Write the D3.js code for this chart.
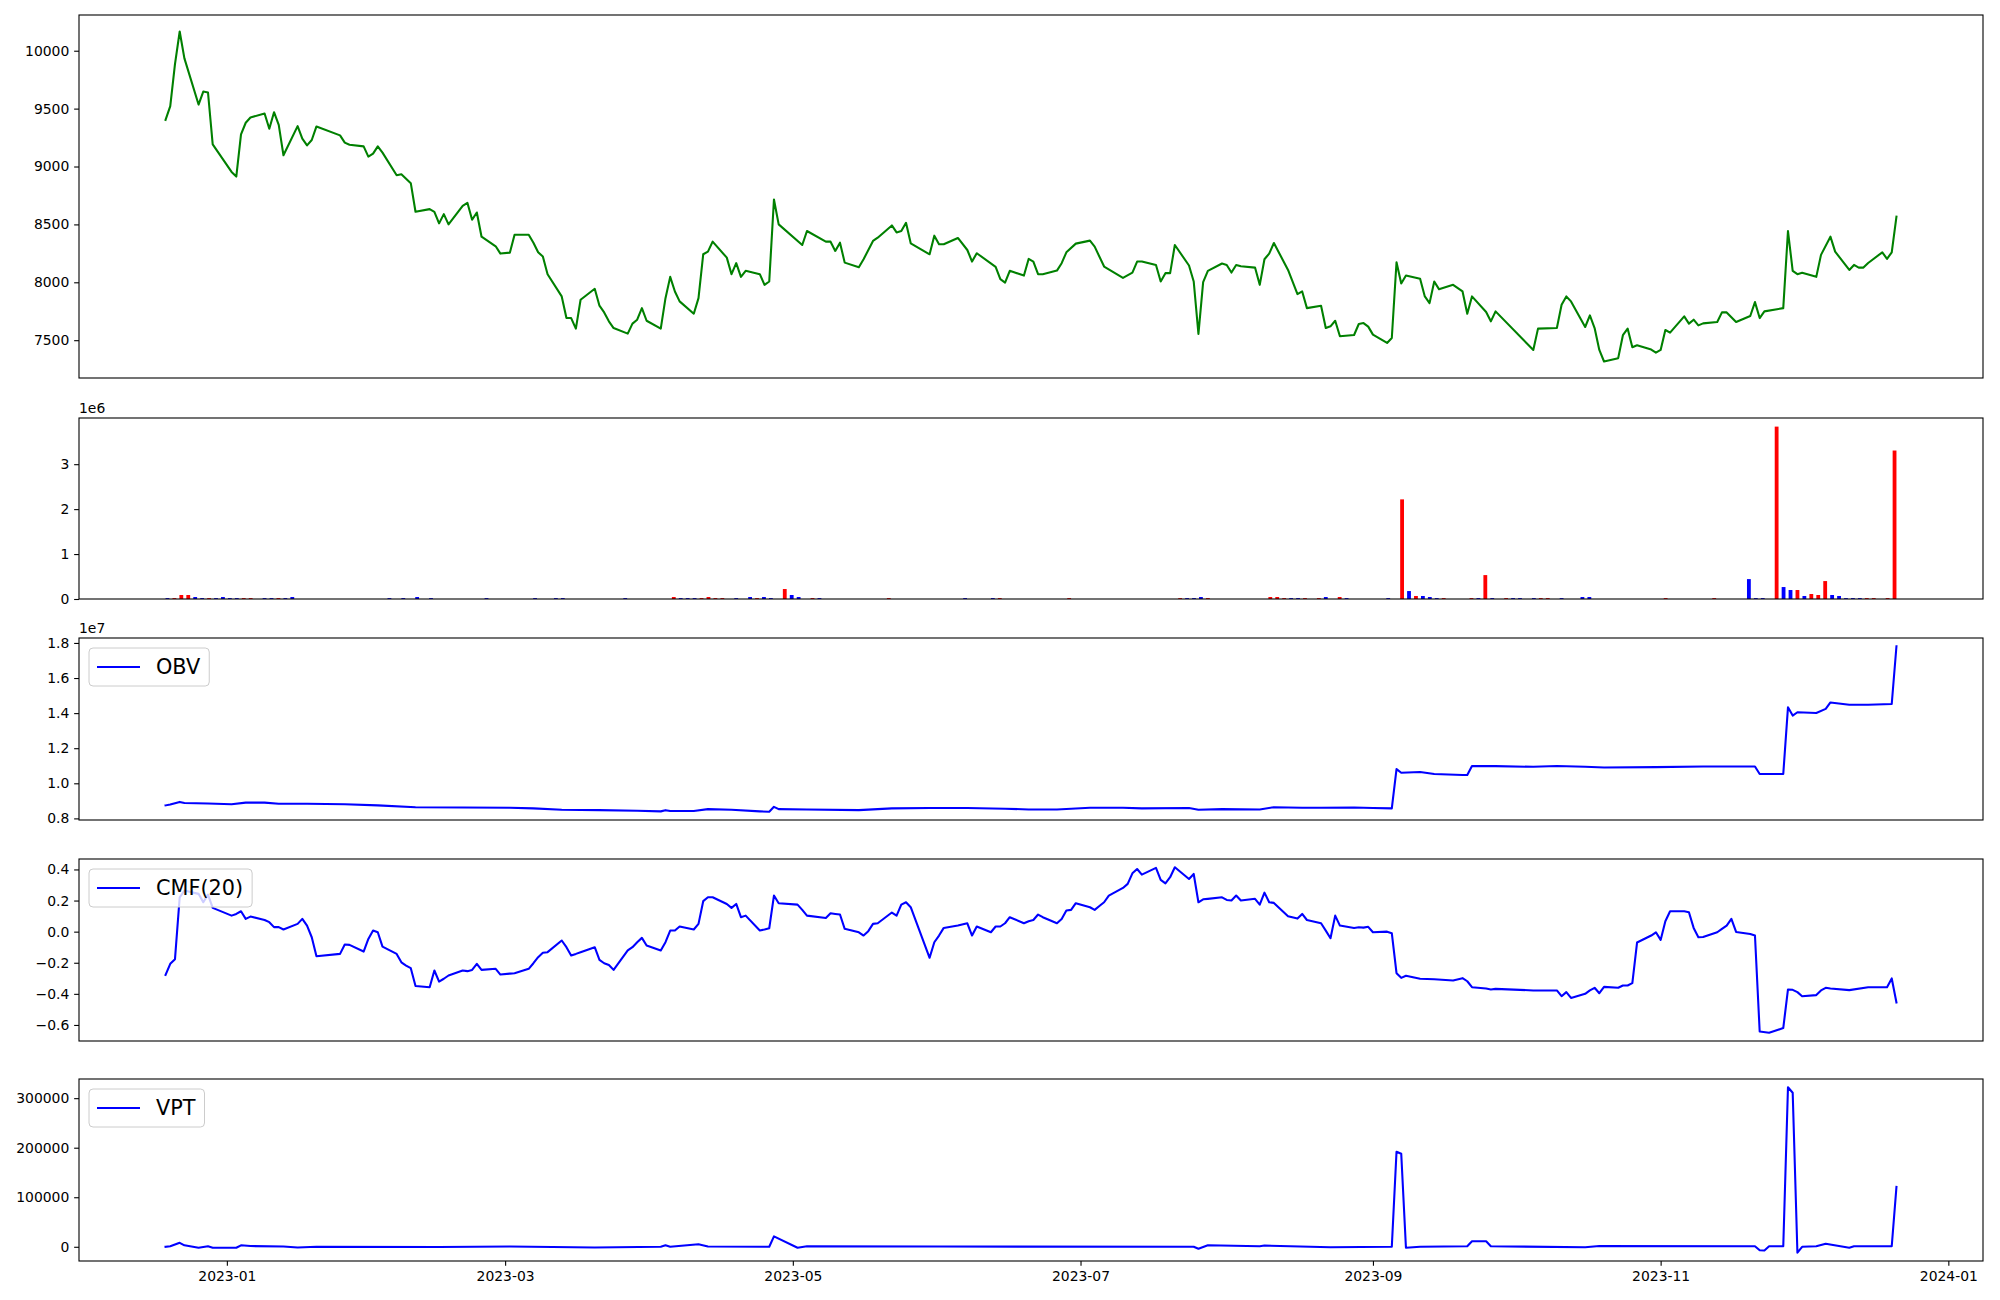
<!DOCTYPE html>
<html><head><meta charset="utf-8">
<script src="https://cdn.jsdelivr.net/npm/d3@7"></script>
<style>body{margin:0;background:#fff}</style>
</head><body>
<svg id="chart" width="2000" height="1300"></svg>
<script>
// ---------------- DATA ----------------
const priceData = [
["2022-12-19",9403],["2022-12-20",9521],["2022-12-21",9885],["2022-12-22",10166],["2022-12-23",9934],
["2022-12-26",9535],["2022-12-27",9647],["2022-12-28",9639],["2022-12-29",9191],
["2023-01-02",8953],["2023-01-03",8913],["2023-01-04",9277],["2023-01-05",9378],["2023-01-06",9423],
["2023-01-09",9458],["2023-01-10",9326],["2023-01-11",9469],["2023-01-12",9360],["2023-01-13",9097],
["2023-01-16",9349],["2023-01-17",9240],["2023-01-18",9183],["2023-01-19",9229],["2023-01-20",9346],
["2023-01-25",9269],["2023-01-26",9206],["2023-01-27",9188],["2023-01-30",9174],["2023-01-31",9085],
["2023-02-01",9111],["2023-02-02",9174],["2023-02-03",9120],["2023-02-06",8925],["2023-02-07",8933],
["2023-02-09",8856],["2023-02-10",8609],["2023-02-13",8632],["2023-02-14",8609],["2023-02-15",8509],
["2023-02-16",8589],["2023-02-17",8500],["2023-02-20",8661],["2023-02-21",8687],["2023-02-22",8540],
["2023-02-23",8603],["2023-02-24",8394],["2023-02-27",8311],["2023-02-28",8248],["2023-03-02",8256],
["2023-03-03",8411],["2023-03-06",8411],["2023-03-07",8342],["2023-03-08",8259],["2023-03-09",8222],
["2023-03-10",8070],["2023-03-13",7878],["2023-03-14",7691],["2023-03-15",7691],["2023-03-16",7600],
["2023-03-17",7849],["2023-03-20",7944],["2023-03-21",7798],["2023-03-22",7740],["2023-03-23",7663],
["2023-03-24",7605],["2023-03-27",7557],["2023-03-28",7643],["2023-03-29",7677],["2023-03-30",7777],
["2023-03-31",7668],["2023-04-03",7600],["2023-04-04",7863],["2023-04-05",8047],["2023-04-06",7921],
["2023-04-07",7835],["2023-04-10",7729],["2023-04-11",7863],["2023-04-12",8242],["2023-04-13",8265],
["2023-04-14",8351],["2023-04-17",8213],["2023-04-18",8070],["2023-04-19",8165],["2023-04-20",8047],
["2023-04-21",8099],["2023-04-24",8070],["2023-04-25",7978],["2023-04-26",8007],["2023-04-27",8715],
["2023-04-28",8500],["2023-05-03",8322],["2023-05-04",8443],["2023-05-08",8351],["2023-05-09",8351],
["2023-05-10",8271],["2023-05-11",8342],["2023-05-12",8170],["2023-05-15",8130],["2023-05-16",8199],
["2023-05-18",8357],["2023-05-19",8385],["2023-05-22",8491],["2023-05-23",8431],["2023-05-24",8443],
["2023-05-25",8514],["2023-05-26",8337],["2023-05-30",8242],["2023-05-31",8403],["2023-06-01",8328],
["2023-06-02",8328],["2023-06-05",8383],["2023-06-07",8279],["2023-06-08",8179],["2023-06-09",8251],
["2023-06-13",8133],["2023-06-14",8027],["2023-06-15",7998],["2023-06-16",8099],["2023-06-19",8058],
["2023-06-20",8202],["2023-06-21",8179],["2023-06-22",8070],["2023-06-23",8070],["2023-06-26",8101],
["2023-06-27",8165],["2023-06-28",8259],["2023-06-30",8334],["2023-07-03",8360],["2023-07-04",8308],
["2023-07-06",8136],["2023-07-10",8038],["2023-07-12",8084],["2023-07-13",8179],["2023-07-14",8179],
["2023-07-17",8150],["2023-07-18",8007],["2023-07-19",8079],["2023-07-20",8079],["2023-07-21",8322],
["2023-07-24",8145],["2023-07-25",8007],["2023-07-26",7554],["2023-07-27",8001],["2023-07-28",8099],
["2023-07-31",8162],["2023-08-01",8150],["2023-08-02",8084],["2023-08-03",8150],["2023-08-04",8139],
["2023-08-07",8127],["2023-08-08",7978],["2023-08-09",8199],["2023-08-10",8248],["2023-08-11",8339],
["2023-08-14",8107],["2023-08-16",7898],["2023-08-17",7921],["2023-08-18",7777],["2023-08-21",7798],
["2023-08-22",7605],["2023-08-23",7620],["2023-08-24",7668],["2023-08-25",7534],["2023-08-28",7545],
["2023-08-29",7640],["2023-08-30",7648],["2023-08-31",7617],["2023-09-01",7548],["2023-09-04",7476],
["2023-09-05",7519],["2023-09-06",8173],["2023-09-07",7990],["2023-09-08",8059],["2023-09-11",8030],
["2023-09-12",7878],["2023-09-13",7820],["2023-09-14",8007],["2023-09-15",7941],["2023-09-18",7978],
["2023-09-20",7921],["2023-09-21",7729],["2023-09-22",7878],["2023-09-25",7743],["2023-09-26",7663],
["2023-09-27",7749],["2023-10-05",7416],["2023-10-06",7600],["2023-10-10",7605],["2023-10-11",7806],
["2023-10-12",7878],["2023-10-13",7835],["2023-10-16",7614],["2023-10-17",7714],["2023-10-18",7605],
["2023-10-19",7416],["2023-10-20",7316],["2023-10-23",7345],["2023-10-24",7543],["2023-10-25",7600],
["2023-10-26",7439],["2023-10-27",7456],["2023-10-30",7419],["2023-10-31",7393],["2023-11-01",7416],
["2023-11-02",7588],["2023-11-03",7565],["2023-11-06",7706],["2023-11-07",7643],["2023-11-08",7677],
["2023-11-09",7628],["2023-11-10",7645],["2023-11-13",7657],["2023-11-14",7740],["2023-11-15",7740],
["2023-11-17",7657],["2023-11-20",7709],["2023-11-21",7829],["2023-11-22",7691],["2023-11-23",7749],
["2023-11-27",7777],["2023-11-28",8443],["2023-11-29",8099],["2023-11-30",8070],["2023-12-01",8082],
["2023-12-04",8047],["2023-12-05",8237],["2023-12-07",8394],["2023-12-08",8265],["2023-12-11",8107],
["2023-12-12",8150],["2023-12-13",8127],["2023-12-14",8127],["2023-12-15",8167],["2023-12-18",8259],
["2023-12-19",8202],["2023-12-20",8259],["2023-12-21",8566]
];

// trading calendar (bar positions are trading-day indices)
const calendarStart = "2022-12-19";
const calendarEnd = "2023-12-21";
const holidays = ["2022-12-30","2023-01-23","2023-01-24","2023-03-01","2023-05-01","2023-05-05",
  "2023-05-29","2023-06-06","2023-08-15","2023-09-28","2023-09-29","2023-10-02","2023-10-03","2023-10-09"];

// volume bars: [date, volume, up(1)/down(0)]
const volumeData = [
["2022-12-19",20000,0],["2022-12-20",20000,1],["2022-12-21",89000,1],["2022-12-22",89000,1],["2022-12-23",44000,0],
["2022-12-26",20000,0],["2022-12-27",20000,1],["2022-12-28",20000,0],["2022-12-29",44000,0],["2023-01-02",20000,0],
["2023-01-03",20000,0],["2023-01-04",20000,1],["2023-01-05",20000,1],["2023-01-09",20000,0],["2023-01-10",20000,0],
["2023-01-11",20000,1],["2023-01-12",20000,0],["2023-01-13",44000,0],["2023-02-06",20000,0],["2023-02-08",20000,0],
["2023-02-10",44000,0],["2023-02-14",20000,0],["2023-02-24",20000,0],["2023-03-08",20000,0],["2023-03-13",20000,0],
["2023-03-14",20000,0],["2023-03-27",20000,0],["2023-04-05",44000,1],["2023-04-06",20000,0],["2023-04-07",20000,0],
["2023-04-10",20000,0],["2023-04-11",20000,1],["2023-04-12",44000,1],["2023-04-13",20000,1],["2023-04-14",20000,1],
["2023-04-18",20000,0],["2023-04-20",44000,0],["2023-04-21",20000,1],["2023-04-24",44000,0],["2023-04-25",20000,0],
["2023-04-27",222000,1],["2023-04-28",89000,0],["2023-05-02",44000,0],["2023-05-04",20000,1],["2023-05-08",20000,0],
["2023-05-22",20000,1],["2023-06-08",20000,0],["2023-06-14",20000,0],["2023-06-15",20000,1],["2023-06-29",20000,1],
["2023-07-21",20000,1],["2023-07-24",20000,0],["2023-07-25",20000,0],["2023-07-26",44000,0],["2023-07-27",20000,1],
["2023-08-09",44000,1],["2023-08-10",44000,1],["2023-08-11",20000,1],["2023-08-14",20000,0],["2023-08-16",20000,0],
["2023-08-17",20000,1],["2023-08-21",20000,1],["2023-08-22",44000,0],["2023-08-24",44000,1],["2023-08-25",20000,0],
["2023-09-04",20000,0],["2023-09-06",2217000,1],["2023-09-07",177000,0],["2023-09-08",67000,1],["2023-09-11",67000,0],
["2023-09-12",44000,0],["2023-09-13",20000,0],["2023-09-14",20000,1],["2023-09-20",20000,1],["2023-09-21",20000,0],
["2023-09-22",532000,1],["2023-09-25",20000,0],["2023-09-27",20000,1],["2023-10-04",20000,0],["2023-10-05",20000,0],
["2023-10-10",20000,0],["2023-10-11",20000,1],["2023-10-12",20000,1],["2023-10-16",20000,0],["2023-10-19",44000,0],
["2023-10-20",44000,0],["2023-11-06",20000,1],["2023-11-15",20000,1],["2023-11-22",443000,0],["2023-11-23",20000,0],
["2023-11-24",20000,0],["2023-11-28",3836000,1],["2023-11-29",266000,0],["2023-11-30",200000,0],["2023-12-01",200000,1],
["2023-12-04",67000,0],["2023-12-05",111000,1],["2023-12-06",89000,1],["2023-12-07",399000,1],["2023-12-08",89000,0],
["2023-12-11",67000,0],["2023-12-12",20000,0],["2023-12-13",20000,0],["2023-12-14",20000,0],["2023-12-15",20000,1],
["2023-12-18",20000,1],["2023-12-20",20000,1],["2023-12-21",3304000,1]
];

const obvData = [
["2022-12-19",0.874e7],["2022-12-20",0.879e7],["2022-12-22",0.894e7],["2022-12-23",0.888e7],["2022-12-28",0.885e7],
["2023-01-02",0.881e7],["2023-01-05",0.890e7],["2023-01-09",0.890e7],["2023-01-12",0.883e7],["2023-01-18",0.883e7],
["2023-01-26",0.881e7],["2023-02-02",0.874e7],["2023-02-10",0.864e7],["2023-02-20",0.862e7],["2023-03-02",0.861e7],
["2023-03-07",0.857e7],["2023-03-13",0.849e7],["2023-03-21",0.847e7],["2023-03-29",0.844e7],["2023-04-03",0.840e7],
["2023-04-04",0.847e7],["2023-04-05",0.842e7],["2023-04-10",0.842e7],["2023-04-13",0.853e7],["2023-04-18",0.849e7],
["2023-04-24",0.840e7],["2023-04-26",0.838e7],["2023-04-27",0.866e7],["2023-04-28",0.853e7],["2023-05-04",0.851e7],
["2023-05-15",0.847e7],["2023-05-22",0.857e7],["2023-05-30",0.859e7],["2023-06-07",0.859e7],["2023-06-15",0.855e7],
["2023-06-20",0.851e7],["2023-06-26",0.851e7],["2023-07-03",0.861e7],["2023-07-10",0.861e7],["2023-07-14",0.857e7],
["2023-07-24",0.859e7],["2023-07-26",0.849e7],["2023-07-31",0.853e7],["2023-08-08",0.851e7],["2023-08-11",0.864e7],
["2023-08-17",0.861e7],["2023-08-21",0.861e7],["2023-08-28",0.862e7],["2023-09-01",0.859e7],["2023-09-05",0.857e7],
["2023-09-06",1.081e7],["2023-09-07",1.060e7],["2023-09-11",1.064e7],["2023-09-14",1.053e7],["2023-09-20",1.047e7],
["2023-09-21",1.047e7],["2023-09-22",1.099e7],["2023-09-27",1.098e7],["2023-10-05",1.094e7],["2023-10-10",1.099e7],
["2023-10-16",1.094e7],["2023-10-20",1.090e7],["2023-10-31",1.092e7],["2023-11-10",1.096e7],["2023-11-21",1.096e7],
["2023-11-22",1.053e7],["2023-11-27",1.053e7],["2023-11-28",1.433e7],["2023-11-29",1.386e7],["2023-11-30",1.405e7],
["2023-12-04",1.401e7],["2023-12-06",1.424e7],["2023-12-07",1.461e7],["2023-12-11",1.448e7],["2023-12-15",1.448e7],
["2023-12-20",1.452e7],["2023-12-21",1.781e7]
];

const cmfData = [
["2022-12-19",-0.278],["2022-12-20",-0.207],["2022-12-21",-0.177],["2022-12-22",0.221],["2022-12-23",0.264],
["2022-12-26",0.243],["2022-12-27",0.189],["2022-12-28",0.238],["2022-12-29",0.153],["2023-01-02",0.103],
["2023-01-03",0.114],["2023-01-04",0.131],["2023-01-05",0.082],["2023-01-06",0.097],["2023-01-09",0.075],
["2023-01-10",0.061],["2023-01-11",0.029],["2023-01-12",0.029],["2023-01-13",0.014],["2023-01-16",0.050],
["2023-01-17",0.082],["2023-01-18",0.039],["2023-01-19",-0.036],["2023-01-20",-0.158],["2023-01-25",-0.143],
["2023-01-26",-0.083],["2023-01-27",-0.085],["2023-01-30",-0.128],["2023-01-31",-0.047],["2023-02-01",0.007],
["2023-02-02",-0.004],["2023-02-03",-0.096],["2023-02-06",-0.143],["2023-02-07",-0.197],["2023-02-08",-0.218],
["2023-02-09",-0.235],["2023-02-10",-0.349],["2023-02-13",-0.357],["2023-02-14",-0.250],["2023-02-15",-0.321],
["2023-02-16",-0.303],["2023-02-17",-0.282],["2023-02-20",-0.250],["2023-02-21",-0.254],["2023-02-22",-0.246],
["2023-02-23",-0.207],["2023-02-24",-0.246],["2023-02-27",-0.239],["2023-02-28",-0.276],["2023-03-02",-0.270],
["2023-03-03",-0.267],["2023-03-06",-0.239],["2023-03-07",-0.203],["2023-03-08",-0.164],["2023-03-09",-0.136],
["2023-03-10",-0.132],["2023-03-13",-0.057],["2023-03-14",-0.100],["2023-03-15",-0.153],["2023-03-16",-0.143],
["2023-03-17",-0.132],["2023-03-20",-0.100],["2023-03-21",-0.181],["2023-03-22",-0.203],["2023-03-23",-0.214],
["2023-03-24",-0.246],["2023-03-27",-0.121],["2023-03-28",-0.100],["2023-03-29",-0.068],["2023-03-30",-0.040],
["2023-03-31",-0.089],["2023-04-03",-0.121],["2023-04-04",-0.068],["2023-04-05",0.007],["2023-04-06",0.007],
["2023-04-07",0.033],["2023-04-10",0.014],["2023-04-11",0.050],["2023-04-12",0.196],["2023-04-13",0.221],
["2023-04-14",0.221],["2023-04-17",0.178],["2023-04-18",0.153],["2023-04-19",0.178],["2023-04-20",0.093],
["2023-04-21",0.103],["2023-04-24",0.007],["2023-04-25",0.014],["2023-04-26",0.022],["2023-04-27",0.232],
["2023-04-28",0.183],["2023-05-02",0.174],["2023-05-03",0.140],["2023-05-04",0.103],["2023-05-08",0.088],
["2023-05-09",0.118],["2023-05-10",0.114],["2023-05-11",0.110],["2023-05-12",0.018],["2023-05-15",-0.004],
["2023-05-16",-0.025],["2023-05-17",0.003],["2023-05-18",0.050],["2023-05-19",0.054],["2023-05-22",0.123],
["2023-05-23",0.103],["2023-05-24",0.174],["2023-05-25",0.189],["2023-05-26",0.157],["2023-05-30",-0.168],
["2023-05-31",-0.068],["2023-06-01",-0.025],["2023-06-02",0.024],["2023-06-05",0.039],["2023-06-07",0.054],
["2023-06-08",-0.025],["2023-06-09",0.033],["2023-06-12",-0.004],["2023-06-13",0.033],["2023-06-14",0.033],
["2023-06-15",0.054],["2023-06-16",0.093],["2023-06-19",0.054],["2023-06-20",0.067],["2023-06-21",0.075],
["2023-06-22",0.110],["2023-06-23",0.093],["2023-06-26",0.054],["2023-06-27",0.082],["2023-06-28",0.136],
["2023-06-29",0.140],["2023-06-30",0.183],["2023-07-03",0.157],["2023-07-04",0.140],["2023-07-05",0.165],
["2023-07-06",0.189],["2023-07-07",0.232],["2023-07-10",0.281],["2023-07-11",0.307],["2023-07-12",0.375],
["2023-07-13",0.403],["2023-07-14",0.367],["2023-07-17",0.410],["2023-07-18",0.333],["2023-07-19",0.311],
["2023-07-20",0.350],["2023-07-21",0.414],["2023-07-24",0.339],["2023-07-25",0.371],["2023-07-26",0.189],
["2023-07-27",0.208],["2023-07-28",0.211],["2023-07-31",0.221],["2023-08-01",0.204],["2023-08-02",0.200],
["2023-08-03",0.232],["2023-08-04",0.200],["2023-08-07",0.211],["2023-08-08",0.174],["2023-08-09",0.251],
["2023-08-10",0.189],["2023-08-11",0.185],["2023-08-14",0.099],["2023-08-16",0.084],["2023-08-17",0.114],
["2023-08-18",0.075],["2023-08-21",0.054],["2023-08-22",0.007],["2023-08-23",-0.042],["2023-08-24",0.103],
["2023-08-25",0.039],["2023-08-28",0.024],["2023-08-29",0.028],["2023-08-30",0.026],["2023-08-31",0.031],
["2023-09-01",-0.004],["2023-09-04",0.000],["2023-09-05",-0.010],["2023-09-06",-0.267],["2023-09-07",-0.297],
["2023-09-08",-0.284],["2023-09-11",-0.303],["2023-09-14",-0.306],["2023-09-18",-0.314],["2023-09-20",-0.299],
["2023-09-21",-0.319],["2023-09-22",-0.357],["2023-09-25",-0.366],["2023-09-26",-0.372],["2023-09-27",-0.368],
["2023-10-05",-0.378],["2023-10-10",-0.378],["2023-10-11",-0.415],["2023-10-12",-0.389],["2023-10-13",-0.426],
["2023-10-16",-0.400],["2023-10-17",-0.378],["2023-10-18",-0.361],["2023-10-19",-0.396],["2023-10-20",-0.355],
["2023-10-23",-0.361],["2023-10-24",-0.346],["2023-10-25",-0.346],["2023-10-26",-0.331],["2023-10-27",-0.070],
["2023-10-30",-0.025],["2023-10-31",-0.004],["2023-11-01",-0.053],["2023-11-02",0.067],["2023-11-03",0.131],
["2023-11-06",0.131],["2023-11-07",0.125],["2023-11-08",0.024],["2023-11-09",-0.036],["2023-11-10",-0.034],
["2023-11-13",-0.004],["2023-11-14",0.018],["2023-11-15",0.039],["2023-11-16",0.082],["2023-11-17",-0.002],
["2023-11-20",-0.015],["2023-11-21",-0.025],["2023-11-22",-0.642],["2023-11-24",-0.650],["2023-11-27",-0.620],
["2023-11-28",-0.372],["2023-11-29",-0.374],["2023-11-30",-0.389],["2023-12-01",-0.415],["2023-12-04",-0.408],
["2023-12-05",-0.378],["2023-12-06",-0.361],["2023-12-07",-0.366],["2023-12-11",-0.376],["2023-12-15",-0.357],
["2023-12-19",-0.357],["2023-12-20",-0.301],["2023-12-21",-0.455]
];

const vptData = [
["2022-12-19",0],["2022-12-20",1000],["2022-12-22",8000],["2022-12-23",3000],["2022-12-26",-2000],
["2022-12-28",1000],["2022-12-29",-2000],["2023-01-03",-2000],["2023-01-04",3000],["2023-01-06",1500],
["2023-01-13",500],["2023-01-16",-1500],["2023-01-20",0],["2023-02-15",-500],["2023-03-02",500],
["2023-03-20",-1500],["2023-04-03",0],["2023-04-04",3000],["2023-04-05",0],["2023-04-11",5000],
["2023-04-13",500],["2023-04-26",0],["2023-04-27",21000],["2023-05-02",-2000],["2023-05-04",1000],
["2023-06-01",500],["2023-07-25",0],["2023-07-26",-4000],["2023-07-28",3000],["2023-08-08",1000],
["2023-08-09",2500],["2023-08-23",-1000],["2023-09-05",0],["2023-09-06",191700],["2023-09-07",187700],
["2023-09-08",-2000],["2023-09-11",0],["2023-09-21",1000],["2023-09-22",11000],["2023-09-25",11000],
["2023-09-26",1000],["2023-10-16",-1000],["2023-10-19",1500],["2023-11-21",1000],["2023-11-22",-7000],
["2023-11-23",-7500],["2023-11-24",1000],["2023-11-27",1000],["2023-11-28",322000],["2023-11-29",311000],
["2023-11-30",-12000],["2023-12-01",0],["2023-12-04",1000],["2023-12-06",6000],["2023-12-11",-2000],
["2023-12-12",1000],["2023-12-20",1000],["2023-12-21",120700]
];

const priceTicks = [7500,8000,8500,9000,9500,10000];
const volumeTicks = [0,1e6,2e6,3e6];
const obvTicks = [0.8e7,1.0e7,1.2e7,1.4e7,1.6e7,1.8e7];
const cmfTicks = [-0.6,-0.4,-0.2,0.0,0.2,0.4];
const vptTicks = [0,100000,200000,300000];
const dateTickLabels = ["2023-01","2023-03","2023-05","2023-07","2023-09","2023-11","2024-01"];

// ---------------- LAYOUT ----------------
const L = 79, R = 1983;
const FONT = "DejaVu Sans, Liberation Sans, sans-serif";
const TICK = 4.86, TICKFS = 13.9, LW = 2.08;
const P = {
  price: [15, 378], vol: [418, 599], obv: [638, 820], cmf: [859, 1041], vpt: [1079, 1261]
};

const svg = d3.select("#chart");
svg.append("rect").attr("width", 2000).attr("height", 1300).attr("fill", "#fff");
const parse = d3.utcParse("%Y-%m-%d");
const fmt = d3.utcFormat("%Y-%m-%d");

function padExtent(ext) { const r = ext[1] - ext[0]; return [ext[0] - 0.05 * r, ext[1] + 0.05 * r]; }

const dates = priceData.map(d => parse(d[0]));
const dMin = d3.min(dates), dMax = d3.max(dates), span = dMax - dMin;
const x = d3.scaleUtc().domain([new Date(+dMin - 0.05 * span), new Date(+dMax + 0.05 * span)]).range([L, R]);

// trading calendar
const holiSet = new Set(holidays);
const tradingDays = d3.utcDays(parse(calendarStart), d3.utcDay.offset(parse(calendarEnd), 1))
  .filter(d => d.getUTCDay() !== 0 && d.getUTCDay() !== 6 && !holiSet.has(fmt(d))).map(fmt);
const N = tradingDays.length;
const barW = 0.55;
const xi = d3.scaleLinear()
  .domain(padExtent([-barW / 2, N - 1 + barW / 2]))
  .range([L, R]);

function frame(key) {
  const [t, b] = P[key];
  svg.append("rect").attr("x", L).attr("y", t).attr("width", R - L).attr("height", b - t)
    .attr("fill", "none").attr("stroke", "#000").attr("stroke-width", 1.1);
}

function yAxis(y, ticks, fmtFn) {
  const g = svg.append("g").attr("transform", `translate(${L},0)`)
    .call(d3.axisLeft(y).tickValues(ticks).tickFormat(fmtFn).tickSize(TICK).tickPadding(4.86));
  g.select(".domain").remove();
  g.selectAll(".tick line").attr("stroke", "#000").attr("stroke-width", 1.1);
  g.selectAll(".tick text").attr("font-family", FONT).attr("font-size", TICKFS).attr("fill", "#000");
  return g;
}

function lineSeries(data, y, color) {
  const line = d3.line().x(d => x(parse(d[0]))).y(d => y(d[1]));
  svg.append("path").datum(data).attr("d", line).attr("fill", "none")
    .attr("stroke", color).attr("stroke-width", LW).attr("stroke-linejoin", "round").attr("stroke-linecap", "square");
}

function legend(key, label) {
  const top = P[key][0];
  const fs = 20.8;
  const g = svg.append("g");
  const t = g.append("text").attr("font-family", FONT).attr("font-size", fs).text(label);
  const tw = t.node().getComputedTextLength();
  const bx = L + 10, by = top + 10, bw = 67 + tw + 9, bh = 38;
  g.insert("rect", "text").attr("x", bx).attr("y", by).attr("width", bw).attr("height", bh).attr("rx", 4)
    .attr("fill", "#fff").attr("fill-opacity", 0.8).attr("stroke", "#cccccc").attr("stroke-width", 1);
  g.insert("line", "text").attr("x1", bx + 8).attr("x2", bx + 51).attr("y1", by + bh / 2).attr("y2", by + bh / 2)
    .attr("stroke", "blue").attr("stroke-width", LW);
  t.attr("x", bx + 67).attr("y", by + bh / 2).attr("dy", "0.36em").attr("fill", "#000");
}

function offsetText(key, txt) {
  svg.append("text").attr("x", L).attr("y", P[key][0] - 5).attr("font-family", FONT)
    .attr("font-size", TICKFS).attr("fill", "#000").text(txt);
}

const minus = s => s.replace("-", "\u2212");

// ---- Panel 1: price ----
const yP = d3.scaleLinear().domain(padExtent(d3.extent(priceData, d => d[1]))).range([P.price[1], P.price[0]]);
lineSeries(priceData, yP, "green");
yAxis(yP, priceTicks, d3.format("d"));
frame("price");

// ---- Panel 2: volume ----
const yV = d3.scaleLinear().domain([0, d3.max(volumeData, d => d[1]) * 1.05]).range([P.vol[1], P.vol[0]]);
const bw = xi(barW) - xi(0);
svg.append("g").selectAll("rect").data(volumeData).join("rect")
  .attr("x", d => xi(tradingDays.indexOf(d[0])) - bw / 2)
  .attr("width", bw)
  .attr("y", d => yV(d[1]))
  .attr("height", d => yV(0) - yV(d[1]))
  .attr("fill", d => d[2] ? "red" : "blue");
yAxis(yV, volumeTicks, d => d3.format("d")(d / 1e6));
offsetText("vol", "1e6");
frame("vol");

// ---- Panel 3: OBV ----
const yO = d3.scaleLinear().domain(padExtent(d3.extent(obvData, d => d[1]))).range([P.obv[1], P.obv[0]]);
lineSeries(obvData, yO, "blue");
yAxis(yO, obvTicks, d => d3.format(".1f")(d / 1e7));
offsetText("obv", "1e7");
frame("obv");
legend("obv", "OBV");

// ---- Panel 4: CMF ----
const yC = d3.scaleLinear().domain(padExtent(d3.extent(cmfData, d => d[1]))).range([P.cmf[1], P.cmf[0]]);
lineSeries(cmfData, yC, "blue");
yAxis(yC, cmfTicks, d => minus(d3.format(".1f")(d)));
frame("cmf");
legend("cmf", "CMF(20)");

// ---- Panel 5: VPT ----
const yT = d3.scaleLinear().domain(padExtent(d3.extent(vptData, d => d[1]))).range([P.vpt[1], P.vpt[0]]);
lineSeries(vptData, yT, "blue");
yAxis(yT, vptTicks, d3.format("d"));
frame("vpt");
legend("vpt", "VPT");

// bottom date axis
const xg = svg.append("g").attr("transform", `translate(0,${P.vpt[1]})`)
  .call(d3.axisBottom(x).tickValues(dateTickLabels.map(s => parse(s + "-01")))
    .tickFormat(d3.utcFormat("%Y-%m")).tickSize(TICK).tickPadding(4.86));
xg.select(".domain").remove();
xg.selectAll(".tick line").attr("stroke", "#000").attr("stroke-width", 1.1);
xg.selectAll(".tick text").attr("font-family", FONT).attr("font-size", TICKFS).attr("fill", "#000");
</script>
</body></html>
